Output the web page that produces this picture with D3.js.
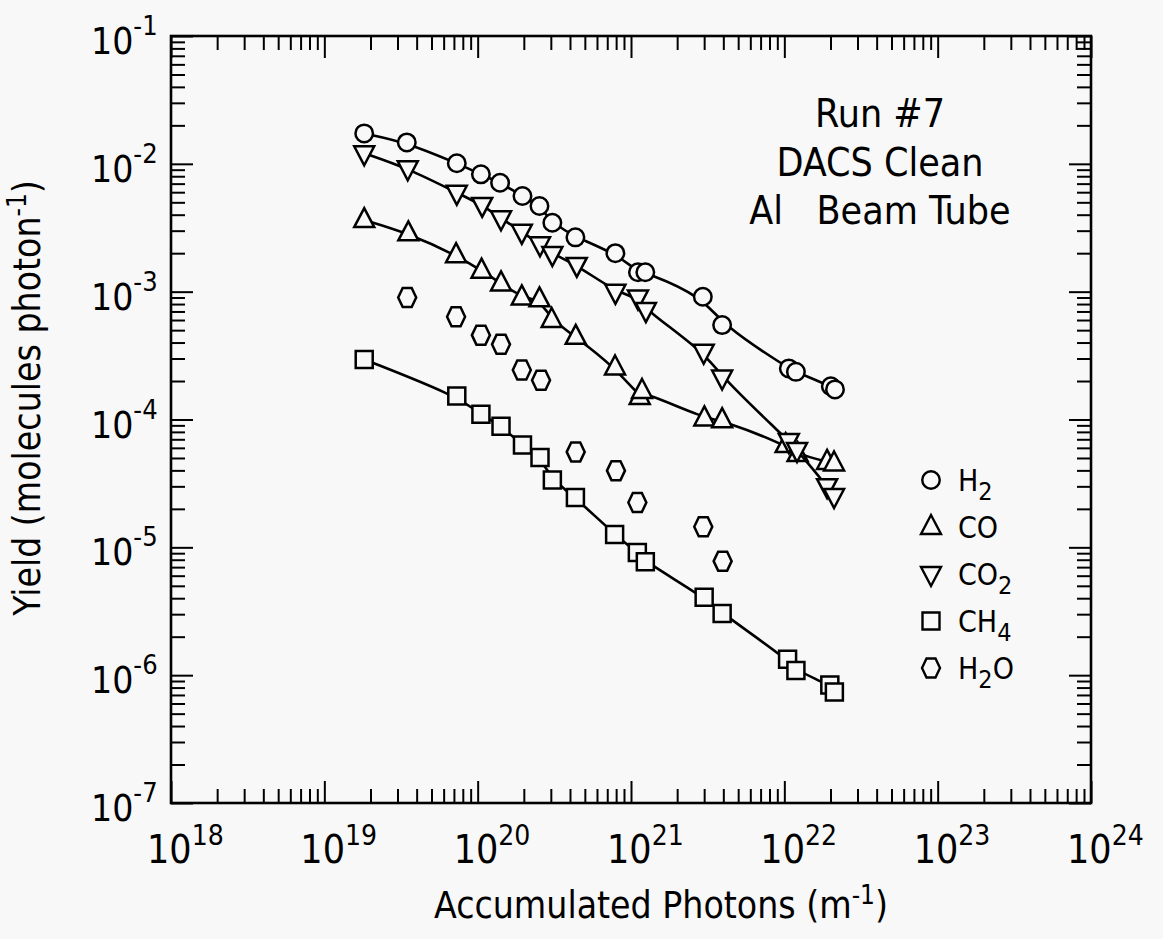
<!DOCTYPE html>
<html>
<head>
<meta charset="utf-8">
<script src="https://cdn.jsdelivr.net/npm/d3@7"></script>
<style>
  html, body { margin: 0; padding: 0; background: #f8f8f8; }
  svg { display: block; }
  text { font-family: "Liberation Sans Narrow", "Arial Narrow", "DejaVu Sans Condensed", sans-serif; fill: #000; }
</style>
</head>
<body>
<div id="chart"></div>
<script>
// accumulated photons (m^-1) and yields (molecules/photon)
var xH2 = [1.82e19, 3.45e19, 7.31e19, 1.05e20, 1.40e20, 1.96e20, 2.53e20, 3.07e20, 4.34e20, 7.91e20, 1.11e21, 1.24e21, 2.94e21, 3.93e21, 1.07e22, 1.19e22, 2.01e22, 2.14e22];
var yH2 = [1.73e-2, 1.47e-2, 1.01e-2, 8.28e-3, 7.11e-3, 5.6e-3, 4.68e-3, 3.46e-3, 2.66e-3, 2.0e-3, 1.42e-3, 1.42e-3, 9.12e-4, 5.48e-4, 2.51e-4, 2.36e-4, 1.82e-4, 1.72e-4];

var xCO = [1.82e19, 3.53e19, 7.23e19, 1.06e20, 1.42e20, 1.94e20, 2.53e20, 3.04e20, 4.36e20, 7.87e20, 1.14e21, 1.18e21, 3.01e21, 3.93e21, 1.02e22, 1.22e22, 1.90e22, 2.11e22];
var yCO = [3.63e-3, 2.86e-3, 1.93e-3, 1.46e-3, 1.16e-3, 9.02e-4, 8.71e-4, 6.0e-4, 4.43e-4, 2.55e-4, 1.50e-4, 1.67e-4, 1.02e-4, 9.88e-5, 6.31e-5, 5.36e-5, 4.66e-5, 4.53e-5];

var xCO2 = [1.82e19, 3.50e19, 7.31e19, 1.07e20, 1.42e20, 1.94e20, 2.55e20, 3.07e20, 4.43e20, 7.91e20, 1.11e21, 1.25e21, 2.98e21, 3.93e21, 1.07e22, 1.21e22, 1.90e22, 2.11e22];
var yCO2 = [1.21e-2, 9.23e-3, 5.94e-3, 4.77e-3, 3.75e-3, 2.94e-3, 2.35e-3, 1.97e-3, 1.62e-3, 9.97e-4, 9.0e-4, 7.18e-4, 3.39e-4, 2.13e-4, 6.78e-5, 5.77e-5, 3.01e-5, 2.52e-5];

var xCH4 = [1.82e19, 7.31e19, 1.05e20, 1.42e20, 1.96e20, 2.55e20, 3.07e20, 4.34e20, 7.82e20, 1.10e21, 1.24e21, 3.0e21, 3.93e21, 1.05e22, 1.19e22, 1.98e22, 2.12e22];
var yCH4 = [2.95e-4, 1.53e-4, 1.10e-4, 8.87e-5, 6.31e-5, 5.05e-5, 3.36e-5, 2.45e-5, 1.26e-5, 9.1e-6, 7.71e-6, 4.07e-6, 3.04e-6, 1.33e-6, 1.09e-6, 8.36e-7, 7.39e-7];

var xH2O = [3.47e19, 7.23e19, 1.05e20, 1.42e20, 1.94e20, 2.59e20, 4.36e20, 7.98e20, 1.10e21, 2.96e21, 3.96e21];
var yH2O = [9.0e-4, 6.37e-4, 4.57e-4, 3.87e-4, 2.44e-4, 2.03e-4, 5.58e-5, 3.98e-5, 2.24e-5, 1.45e-5, 7.8e-6];

var xExponents = [18, 19, 20, 21, 22, 23, 24];
var yExponents = [-1, -2, -3, -4, -5, -6, -7];
var legendNames = ['H2', 'CO', 'CO2', 'CH4', 'H2O'];
var noteLines = ['Run #7', 'DACS Clean', 'Al   Beam Tube'];

var W = 1163, H = 939;
var svg = d3.select('#chart').append('svg')
    .attr('width', W)
    .attr('height', H);

var x = d3.scaleLog().domain([1e18, 1e24]).range([171, 1091]);
var y = d3.scaleLog().domain([1e-7, 1e-1]).range([803, 36]);

// ticks, all pointing into the frame
var xMinor = x.ticks().filter(function (d) { return Math.abs(Math.log10(d) % 1) > 1e-6; });
var yMinor = y.ticks().filter(function (d) { return Math.abs(Math.log10(d) % 1) > 1e-6; });
var xMajor = xExponents.map(function (e) { return Math.pow(10, e); });
var yMajor = yExponents.map(function (e) { return Math.pow(10, e); });

function styleAxis(g) {
  g.select('.domain').remove();
  g.selectAll('.tick line').attr('stroke', '#000').attr('stroke-width', 2);
  g.selectAll('.tick text').remove();
}

var axes = [
  [d3.axisBottom(x).tickValues(xMinor).tickSize(-14), 'translate(0,803)'],
  [d3.axisBottom(x).tickValues(xMajor).tickSize(-22), 'translate(0,803)'],
  [d3.axisTop(x).tickValues(xMinor).tickSize(-14), 'translate(0,36)'],
  [d3.axisTop(x).tickValues(xMajor).tickSize(-22), 'translate(0,36)'],
  [d3.axisLeft(y).tickValues(yMinor).tickSize(-14), 'translate(171,0)'],
  [d3.axisLeft(y).tickValues(yMajor).tickSize(-22), 'translate(171,0)'],
  [d3.axisRight(y).tickValues(yMinor).tickSize(-14), 'translate(1091,0)'],
  [d3.axisRight(y).tickValues(yMajor).tickSize(-22), 'translate(1091,0)']
];
axes.forEach(function (a) {
  svg.append('g').attr('transform', a[1]).call(a[0]).call(styleAxis);
});

svg.append('rect')
    .attr('x', 171).attr('y', 36)
    .attr('width', 1091 - 171).attr('height', 803 - 36)
    .attr('fill', 'none').attr('stroke', '#000').attr('stroke-width', 2.6);

// tick labels as 10 with a raised exponent
xExponents.forEach(function (e) {
  var t = svg.append('text')
      .attr('x', x(Math.pow(10, e)) - 24)
      .attr('y', 863)
      .attr('font-size', 39);
  t.append('tspan').text('10');
  t.append('tspan').attr('font-size', 28).attr('dy', -18).text(e);
});
yExponents.forEach(function (e) {
  var t = svg.append('text')
      .attr('x', 91)
      .attr('y', y(Math.pow(10, e)) + 18)
      .attr('font-size', 37);
  t.append('tspan').text('10');
  t.append('tspan').attr('font-size', 27).attr('dy', -19).text(e);
});

// axis titles
var xt = svg.append('text')
    .attr('x', 661).attr('y', 918)
    .attr('text-anchor', 'middle')
    .attr('font-size', 37);
xt.append('tspan').text('Accumulated Photons (m');
xt.append('tspan').attr('font-size', 26).attr('dy', -14).text('-1');
xt.append('tspan').attr('dy', 14).text(')');

var yt = svg.append('text')
    .attr('transform', 'translate(40,398) rotate(-90)')
    .attr('text-anchor', 'middle')
    .attr('font-size', 37);
yt.append('tspan').text('Yield (molecules photon');
yt.append('tspan').attr('font-size', 26).attr('dy', -14).text('-1');
yt.append('tspan').attr('dy', 14).text(')');

// marker shapes
function circlePath(s) { var r = s / 2; return 'M' + r + ',0A' + r + ',' + r + ' 0 1,1 ' + (-r) + ',0A' + r + ',' + r + ' 0 1,1 ' + r + ',0Z'; }
var shapes = {
  H2: function () { return circlePath(17.5); },
  CO: function () { return 'M0,-12L10,7L-10,7Z'; },
  CO2: function () { return 'M0,12L10,-7L-10,-7Z'; },
  CH4: function () { return 'M-8.5,-8.5H8.5V8.5H-8.5Z'; },
  H2O: function () { return 'M-9,0L-4.5,-9.5H4.5L9,0L4.5,9.5H-4.5Z'; }
};

var series = [
  {name: 'H2', xs: xH2, ys: yH2, line: true},
  {name: 'CO', xs: xCO, ys: yCO, line: true},
  {name: 'CO2', xs: xCO2, ys: yCO2, line: true},
  {name: 'CH4', xs: xCH4, ys: yCH4, line: true},
  {name: 'H2O', xs: xH2O, ys: yH2O, line: false}
];

var line = d3.line()
    .x(function (d) { return x(d[0]); })
    .y(function (d) { return y(d[1]); })
    .curve(d3.curveBasis);

series.forEach(function (s) {
  var pts = s.xs.map(function (v, i) { return [v, s.ys[i]]; });
  if (s.line) {
    svg.append('path')
        .datum(pts)
        .attr('d', line)
        .attr('fill', 'none')
        .attr('stroke', '#000')
        .attr('stroke-width', 2.6);
  }
  svg.append('g').selectAll('path')
      .data(pts)
      .enter().append('path')
      .attr('transform', function (d) { return 'translate(' + x(d[0]) + ',' + y(d[1]) + ')'; })
      .attr('d', shapes[s.name])
      .attr('fill', '#f8f8f8')
      .attr('stroke', '#000')
      .attr('stroke-width', 2.5);
});

// legend
var legend = svg.append('g').attr('transform', 'translate(931,480)');
legendNames.forEach(function (n, i) {
  var row = legend.append('g').attr('transform', 'translate(0,' + (i * 47) + ')');
  row.append('path').attr('d', shapes[n]).attr('fill', 'none').attr('stroke', '#000').attr('stroke-width', 2.4);
  var t = row.append('text').attr('x', 27).attr('y', 11).attr('font-size', 30);
  var parts = n.match(/[A-Z]+|[0-9]+/g);
  var shifted = false;
  parts.forEach(function (p) {
    if (/[0-9]/.test(p)) {
      t.append('tspan').attr('font-size', 25).attr('dy', 9).text(p);
      shifted = true;
    } else {
      t.append('tspan').attr('dy', shifted ? -9 : 0).text(p);
      shifted = false;
    }
  });
});

// annotation
noteLines.forEach(function (l, i) {
  svg.append('text')
      .attr('x', 880)
      .attr('y', 127 + i * 48.5)
      .attr('text-anchor', 'middle')
      .attr('font-size', 39)
      .attr('xml:space', 'preserve')
      .style('white-space', 'pre')
      .text(l);
});
</script>
</body>
</html>
